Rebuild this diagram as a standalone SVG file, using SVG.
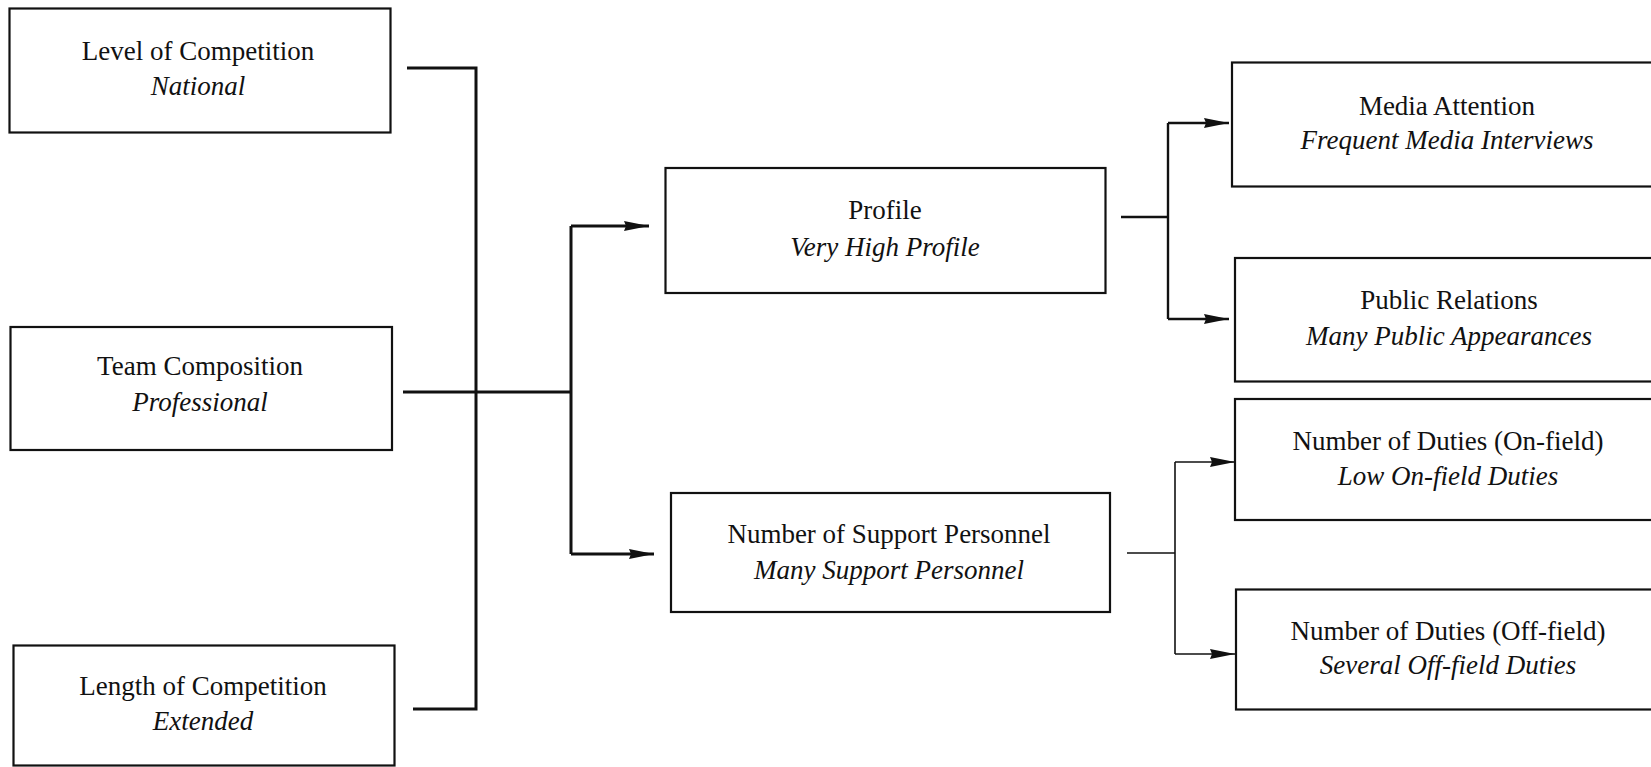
<svg xmlns="http://www.w3.org/2000/svg" width="1651" height="767" viewBox="0 0 1651 767">
<style>
.box{fill:#fff;stroke:#111;stroke-width:2.2}
.t{font-family:"Liberation Serif","Times New Roman",serif;font-size:27px;fill:#111;text-anchor:middle}
.i{font-style:italic}
.c{fill:none;stroke:#111;stroke-width:3}
.c2{fill:none;stroke:#111;stroke-width:2.4}
.c3{fill:none;stroke:#111;stroke-width:1.6}
</style>
<defs>
<marker id="arr" markerUnits="userSpaceOnUse" markerWidth="26" markerHeight="11" refX="25" refY="5.5" orient="auto">
<path d="M0,0.5 L25,5.5 L0,10.5 L2,5.5 z" fill="#111"/>
</marker>
</defs>
<rect width="1651" height="767" fill="#fff"/>
<g id="connectors">
<path class="c" d="M407,68 H476 V709 H413"/>
<path class="c" d="M403,392 H571"/>
<path class="c" d="M571,226 V554"/>
<path class="c" d="M571,226 H649" marker-end="url(#arr)"/>
<path class="c" d="M571,554 H654" marker-end="url(#arr)"/>
<path class="c2" d="M1121,217 H1168"/>
<path class="c2" d="M1168,123 V319"/>
<path class="c2" d="M1168,123 H1229" marker-end="url(#arr)"/>
<path class="c2" d="M1168,319 H1229" marker-end="url(#arr)"/>
<path class="c3" d="M1127,553 H1175"/>
<path class="c3" d="M1175,462 V654"/>
<path class="c3" d="M1175,462 H1235" marker-end="url(#arr)"/>
<path class="c3" d="M1175,654 H1235" marker-end="url(#arr)"/>
</g>
<g id="level">
<rect class="box" x="9.5" y="8.5" width="381" height="124"/>
<text class="t" x="198" y="60">Level of Competition</text>
<text class="t i" x="198" y="95">National</text>
</g>
<g id="team">
<rect class="box" x="10.5" y="327" width="381.5" height="123"/>
<text class="t" x="200" y="375">Team Composition</text>
<text class="t i" x="200" y="411">Professional</text>
</g>
<g id="length">
<rect class="box" x="13.5" y="645.5" width="381" height="120"/>
<text class="t" x="203" y="695">Length of Competition</text>
<text class="t i" x="203" y="730">Extended</text>
</g>
<g id="profile">
<rect class="box" x="665.5" y="168" width="440" height="125"/>
<text class="t" x="885" y="219">Profile</text>
<text class="t i" x="885" y="256">Very High Profile</text>
</g>
<g id="support">
<rect class="box" x="671" y="493" width="439" height="119"/>
<text class="t" x="889" y="543">Number of Support Personnel</text>
<text class="t i" x="889" y="579">Many Support Personnel</text>
</g>
<g id="media">
<rect class="box" x="1232" y="62.5" width="440" height="124"/>
<text class="t" x="1447" y="115">Media Attention</text>
<text class="t i" x="1447" y="149">Frequent Media Interviews</text>
</g>
<g id="public">
<rect class="box" x="1235" y="258" width="440" height="123.5"/>
<text class="t" x="1449" y="309">Public Relations</text>
<text class="t i" x="1449" y="345">Many Public Appearances</text>
</g>
<g id="onfield">
<rect class="box" x="1235" y="399" width="440" height="121"/>
<text class="t" x="1448" y="450">Number of Duties (On-field)</text>
<text class="t i" x="1448" y="485">Low On-field Duties</text>
</g>
<g id="offfield">
<rect class="box" x="1236" y="589.5" width="440" height="120"/>
<text class="t" x="1448" y="640">Number of Duties (Off-field)</text>
<text class="t i" x="1448" y="674">Several Off-field Duties</text>
</g>
</svg>
